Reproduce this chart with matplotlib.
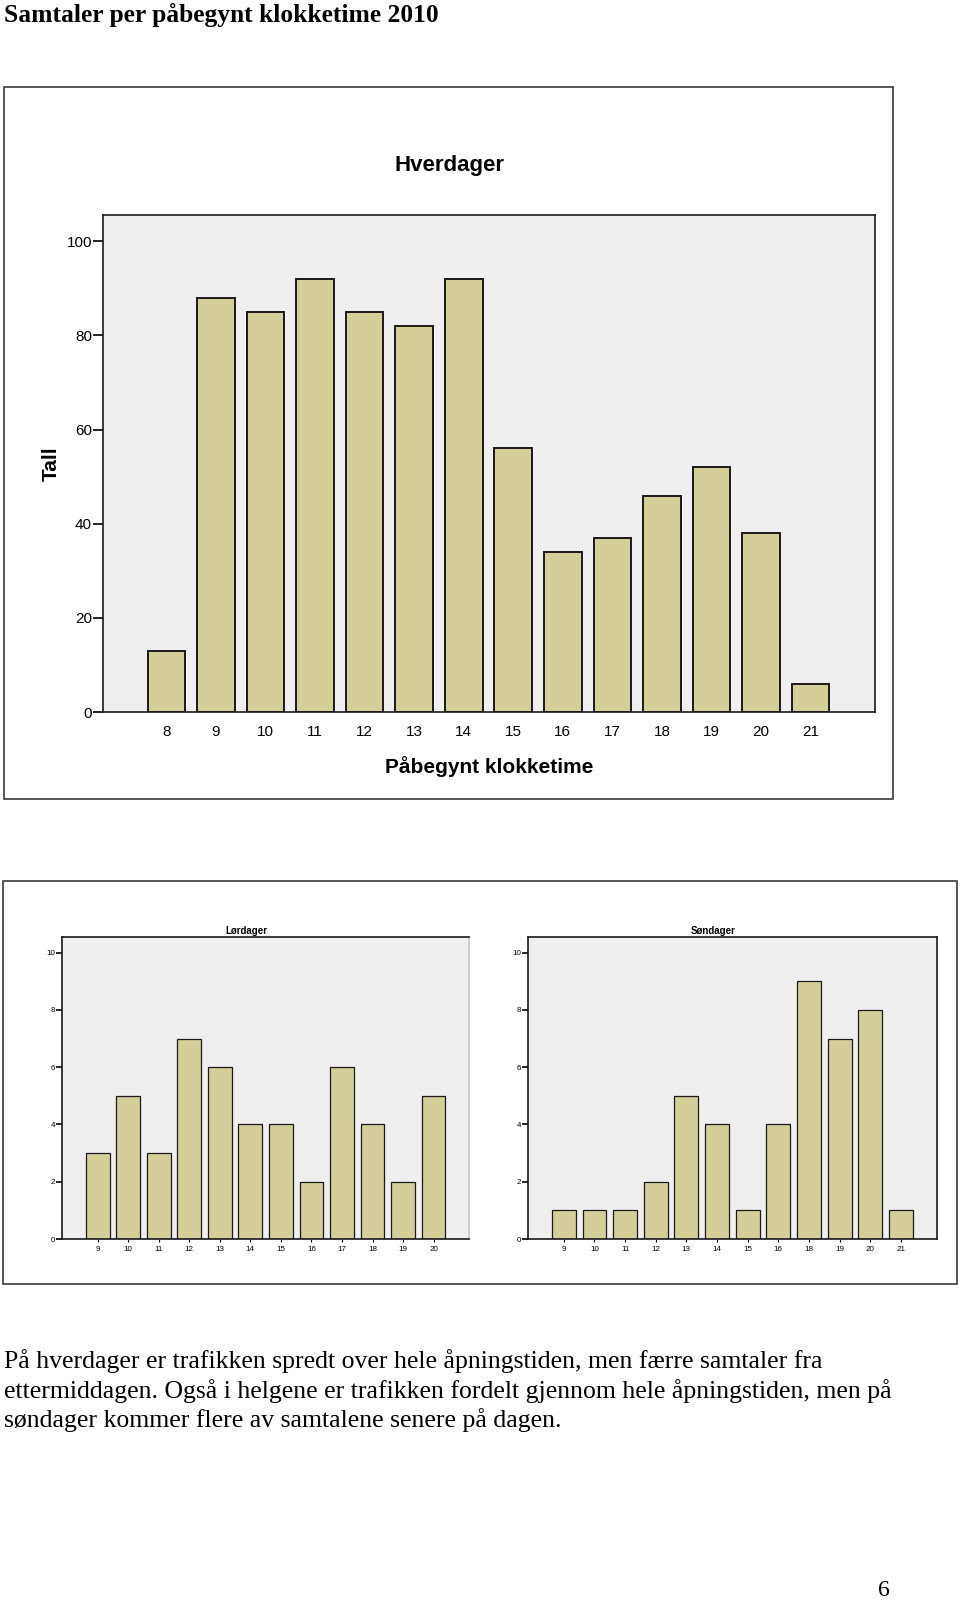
import numpy as np
import matplotlib.pyplot as plt
from matplotlib.patches import Rectangle

# ---------------- data ----------------
hverdager_hours = ["8", "9", "10", "11", "12", "13", "14", "15", "16", "17", "18", "19", "20", "21"]
hverdager_counts = [13, 88, 85, 92, 85, 82, 92, 56, 34, 37, 46, 52, 38, 6]

lordager_hours = ["9", "10", "11", "12", "13", "14", "15", "16", "17", "18", "19", "20"]
lordager_counts = [3, 5, 3, 7, 6, 4, 4, 2, 6, 4, 2, 5]

sondager_hours = ["9", "10", "11", "12", "13", "14", "15", "16", "18", "19", "20", "21"]
sondager_counts = [1, 1, 1, 2, 5, 4, 1, 4, 9, 7, 8, 1]

page_title = "Samtaler per påbegynt klokketime 2010"
paragraph = ["På hverdager er trafikken spredt over hele åpningstiden, men færre samtaler fra",
             "ettermiddagen. Også i helgene er trafikken fordelt gjennom hele åpningstiden, men på",
             "søndager kommer flere av samtalene senere på dagen."]

BAR = "#d4cf99"
BG = "#efefef"
W, H = 960, 1600
SANS = ["Liberation Sans", "DejaVu Sans"]
SERIF = ["Liberation Serif", "DejaVu Serif"]


def rect(x0, y0, x1, y1):
    # pixel box (top-left origin) -> figure fraction
    return [x0 / W, 1 - y1 / H, (x1 - x0) / W, (y1 - y0) / H]


def fy(y):
    return 1 - y / H


fig = plt.figure(figsize=(9.6, 16), dpi=100)
fig.patch.set_facecolor("white")

# outer frames
fig.patches.append(Rectangle((4 / W, fy(799)), 889 / W, 712 / H, transform=fig.transFigure,
                             fill=False, edgecolor="#3a3a3a", linewidth=1.2))
fig.patches.append(Rectangle((3 / W, fy(1284)), 954 / W, 403 / H, transform=fig.transFigure,
                             fill=False, edgecolor="#3a3a3a", linewidth=1.2))


def bar_panel(ax, labels, counts, ymax, yticks, lab_size, tick_len, xtick_len, xpad, bw, lw):
    x = np.arange(len(labels))
    ax.set_facecolor(BG)
    ax.bar(x, counts, width=bw, color=BAR, edgecolor="#1a1a1a", linewidth=lw, zorder=2)
    ax.set_xlim(-1.2, len(labels) - 1 + 1.2)
    ax.set_ylim(0, ymax)
    ax.set_xticks(x)
    ax.set_xticklabels(labels, family=SANS, fontsize=lab_size)
    ax.set_yticks(yticks)
    ax.set_yticklabels([str(t) for t in yticks], family=SANS, fontsize=lab_size)
    ax.tick_params(axis="y", length=tick_len, width=1.2, pad=1, direction="out")
    ax.tick_params(axis="x", length=xtick_len, width=0.8, pad=xpad, direction="out")
    for s in ax.spines.values():
        s.set_color("#1a1a1a")
        s.set_linewidth(1.2)


# ---------------- Hverdager ----------------
ax1 = fig.add_axes(rect(103, 215, 875, 712))
bar_panel(ax1, hverdager_hours, hverdager_counts, 105.6, [0, 20, 40, 60, 80, 100],
          11, 7, 0, 9, 0.76, 1.4)
ax1.set_xlim(-1.28, 14.3)
fig.text(449 / W, fy(165), "Hverdager", ha="center", va="center", family=SANS,
         fontsize=16, fontweight="bold")
fig.text(51 / W, fy(464), "Tall", ha="center", va="center", rotation=90, family=SANS,
         fontsize=15, fontweight="bold")
fig.text(489 / W, fy(767), "Påbegynt klokketime", ha="center", va="center", family=SANS,
         fontsize=15, fontweight="bold")

# ---------------- Lørdager ----------------
ax2 = fig.add_axes(rect(62, 937, 469, 1239))
bar_panel(ax2, lordager_hours, lordager_counts, 10.55, [0, 2, 4, 6, 8, 10],
          5.8, 4, 2, 3, 0.78, 0.9)
ax2.set_xlim(-1.17, 12.16)
ax2.spines["right"].set_color("#c8c8c8")
fig.text(246 / W, fy(931), "Lørdager", ha="center", va="center", family=SANS,
         fontsize=7, fontweight="bold")

# ---------------- Søndager ----------------
ax3 = fig.add_axes(rect(528, 937, 937, 1239))
bar_panel(ax3, sondager_hours, sondager_counts, 10.55, [0, 2, 4, 6, 8, 10],
          5.8, 4, 2, 3, 0.78, 0.9)
ax3.set_xlim(-1.17, 12.18)
fig.text(713 / W, fy(931), "Søndager", ha="center", va="center", family=SANS,
         fontsize=7, fontweight="bold")

# ---------------- page text ----------------
fig.text(4 / W, fy(15), page_title, ha="left", va="center", family=SERIF,
         fontsize=18.4, fontweight="bold")
for i, line in enumerate(paragraph):
    fig.text(4 / W, fy(1361 + i * 29.6), line, ha="left", va="center", family=SERIF, fontsize=18.5)
fig.text(884 / W, fy(1590), "6", ha="center", va="center", family=SERIF, fontsize=17)

fig.savefig("out.png", dpi=100, facecolor="white")
